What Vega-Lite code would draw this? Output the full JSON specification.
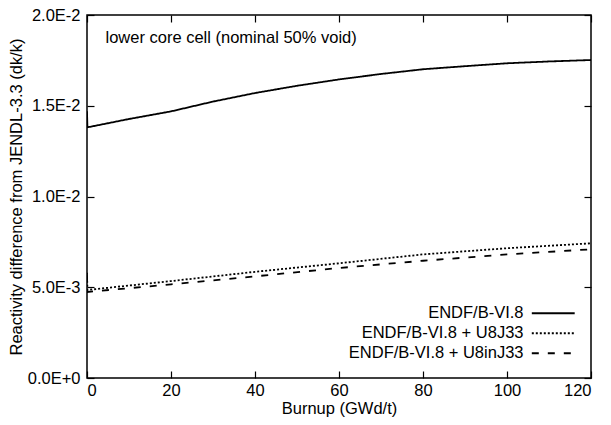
{
  "$schema": "https://vega.github.io/schema/vega-lite/v6.json",
  "width": 504,
  "height": 363,
  "autosize": {"type": "none"},
  "padding": {"left": 87, "top": 15, "right": 20, "bottom": 47},
  "background": "white",
  "config": {
    "font": "Liberation Sans",
    "view": {"stroke": "black", "strokeWidth": 1.5},
    "axis": {
      "domain": false,
      "grid": false,
      "tickColor": "black",
      "tickWidth": 1.2,
      "tickSize": -7,
      "labelColor": "black",
      "labelFontSize": 16.5,
      "labelFont": "Liberation Sans",
      "titleFont": "Liberation Sans",
      "titleFontSize": 16.5,
      "titleFontWeight": "normal",
      "titleColor": "black"
    },
    "legend": {
      "labelFont": "Liberation Sans",
      "labelFontSize": 16.5,
      "labelColor": "black",
      "labelLimit": 400
    }
  },
  "resolve": {"axis": {"x": "independent", "y": "independent"}},
  "layer": [
    {
      "data": {
        "values": [
          {"burnup": 0, "value": 0.0147, "series": "ENDF/B-VI.8"},
          {"burnup": 0.1, "value": 0.01381, "series": "ENDF/B-VI.8"},
          {"burnup": 10, "value": 0.01427, "series": "ENDF/B-VI.8"},
          {"burnup": 20, "value": 0.01469, "series": "ENDF/B-VI.8"},
          {"burnup": 30, "value": 0.01523, "series": "ENDF/B-VI.8"},
          {"burnup": 40, "value": 0.01570, "series": "ENDF/B-VI.8"},
          {"burnup": 50, "value": 0.01610, "series": "ENDF/B-VI.8"},
          {"burnup": 60, "value": 0.01645, "series": "ENDF/B-VI.8"},
          {"burnup": 70, "value": 0.01675, "series": "ENDF/B-VI.8"},
          {"burnup": 80, "value": 0.01701, "series": "ENDF/B-VI.8"},
          {"burnup": 90, "value": 0.01718, "series": "ENDF/B-VI.8"},
          {"burnup": 100, "value": 0.01734, "series": "ENDF/B-VI.8"},
          {"burnup": 110, "value": 0.01744, "series": "ENDF/B-VI.8"},
          {"burnup": 120, "value": 0.01752, "series": "ENDF/B-VI.8"},
          {"burnup": 0, "value": 0.0058, "series": "ENDF/B-VI.8 + U8J33"},
          {"burnup": 0.1, "value": 0.00485, "series": "ENDF/B-VI.8 + U8J33"},
          {"burnup": 20, "value": 0.00534, "series": "ENDF/B-VI.8 + U8J33"},
          {"burnup": 40, "value": 0.00585, "series": "ENDF/B-VI.8 + U8J33"},
          {"burnup": 60, "value": 0.00632, "series": "ENDF/B-VI.8 + U8J33"},
          {"burnup": 80, "value": 0.00681, "series": "ENDF/B-VI.8 + U8J33"},
          {"burnup": 100, "value": 0.00715, "series": "ENDF/B-VI.8 + U8J33"},
          {"burnup": 120, "value": 0.00742, "series": "ENDF/B-VI.8 + U8J33"},
          {"burnup": 0, "value": 0.0057, "series": "ENDF/B-VI.8 + U8inJ33"},
          {"burnup": 0.1, "value": 0.00474, "series": "ENDF/B-VI.8 + U8inJ33"},
          {"burnup": 20, "value": 0.00516, "series": "ENDF/B-VI.8 + U8inJ33"},
          {"burnup": 40, "value": 0.0056, "series": "ENDF/B-VI.8 + U8inJ33"},
          {"burnup": 60, "value": 0.00606, "series": "ENDF/B-VI.8 + U8inJ33"},
          {"burnup": 80, "value": 0.00646, "series": "ENDF/B-VI.8 + U8inJ33"},
          {"burnup": 100, "value": 0.00681, "series": "ENDF/B-VI.8 + U8inJ33"},
          {"burnup": 120, "value": 0.00709, "series": "ENDF/B-VI.8 + U8inJ33"}
        ]
      },
      "mark": {"type": "line", "color": "black", "strokeWidth": 1.8, "clip": true},
      "encoding": {
        "x": {
          "field": "burnup", "type": "quantitative",
          "scale": {"domain": [0, 120], "nice": false, "zero": false},
          "axis": {"orient": "bottom", "values": [0, 20, 40, 60, 80, 100, 120], "title": "Burnup (GWd/t)", "labelPadding": 11, "titlePadding": 2}
        },
        "y": {
          "field": "value", "type": "quantitative",
          "scale": {"domain": [0, 0.02], "nice": false},
          "axis": {"orient": "left", "values": [0, 0.005, 0.01, 0.015, 0.02], "labelExpr": "upper(format(datum.value, '.1e'))", "title": "Reactivity difference from JENDL-3.3 (dk/k)", "labelPadding": 14, "titlePadding": 3}
        },
        "strokeDash": {
          "field": "series", "type": "nominal",
          "scale": {"domain": ["ENDF/B-VI.8", "ENDF/B-VI.8 + U8J33", "ENDF/B-VI.8 + U8inJ33"], "range": [[1, 0], [2, 2], [7, 9]]},
          "legend": {
            "title": null,
            "orient": "none",
            "legendX": 458,
            "legendY": 290,
            "labelAlign": "right",
            "labelOffset": -38,
            "symbolType": "M-4,0H4",
            "symbolSize": 115,
            "symbolStrokeWidth": 1.8,
            "symbolStrokeColor": "black",
            "rowPadding": 3
          }
        }
      }
    },
    {
      "data": {"values": [{}]},
      "mark": {"type": "text", "align": "left", "baseline": "alphabetic", "fontSize": 16.5, "font": "Liberation Sans", "color": "black"},
      "encoding": {
        "x": {"datum": 4.4, "type": "quantitative", "axis": {"orient": "top", "values": [0, 20, 40, 60, 80, 100, 120], "labels": false, "title": null}},
        "y": {"datum": 0.01846, "type": "quantitative", "axis": {"orient": "right", "values": [0, 0.005, 0.01, 0.015, 0.02], "labels": false, "title": null}},
        "text": {"value": "lower core cell (nominal 50% void)"}
      }
    }
  ]
}
